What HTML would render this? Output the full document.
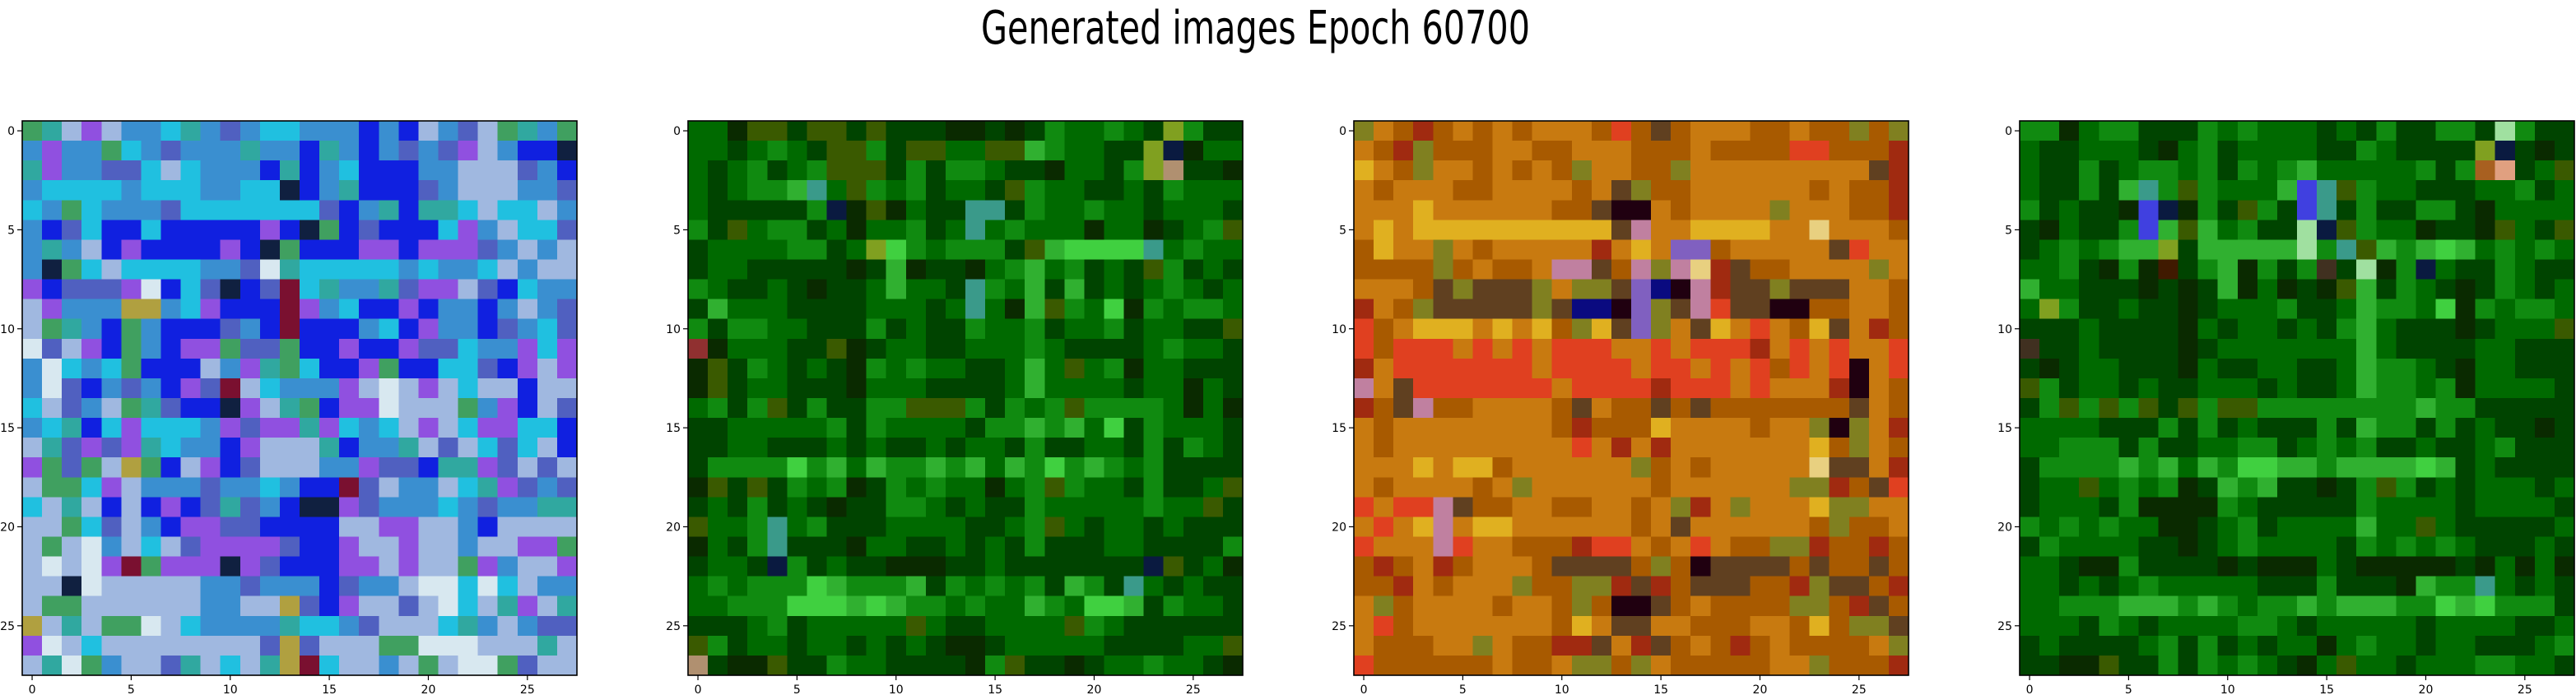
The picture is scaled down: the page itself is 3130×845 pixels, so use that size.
<!DOCTYPE html>
<html><head><meta charset="utf-8">
<style>html,body{margin:0;padding:0;background:#fff;}svg{display:block;}</style>
</head><body>
<svg id="fig" width="3130" height="845" viewBox="0 0 3130 845" xmlns="http://www.w3.org/2000/svg">
<text x="1192" y="53" textLength="667" lengthAdjust="spacingAndGlyphs" font-family="DejaVu Sans, Liberation Sans, sans-serif" font-size="56" fill="#000">Generated images Epoch 60700</text>
</svg>
<script>
const panelLefts = [27, 836, 1645, 2454];
const tickValues = [0, 5, 10, 15, 20, 25];
const tickLabels = ["0", "5", "10", "15", "20", "25"];
const palette1 = {g:"#40a060",t:"#30a8a0",l:"#a0b8e0",p:"#9050e0",a:"#3a8fd0",c:"#20c0e0",m:"#5060c0",b:"#1020e0",d:"#102040",w:"#d8e8f0",r:"#7a1030",y:"#b0a040"};
const paletteG = {G:"#006a00",D:"#004400",K:"#0a2a00",L:"#30b030",M:"#108a10",o:"#3a5a00",T:"#3a9a8a",N:"#0a1a40",B:"#b09070",R:"#903030",Y:"#80a020",P:"#40d040",I:"#4040e0",S:"#e0a080",Q:"#a0e0a0",A:"#a86020",k:"#403020",r:"#401a00"};
const palette3 = {O:"#c87a10",A:"#a85a00",Y:"#e0b020",R:"#e04020",r:"#a02a10",K:"#200010",P:"#8060c0",k:"#604020",g:"#808020",p:"#c080a0",B:"#0a0a80",W:"#e8d080"};
const image1 = [
"g t l p l a a c t a m a c c a a a b a b l a m l g t a g",
"a p a a g c a m a a a t a a b t a b a m a m p l a b b d",
"t p a a m m c l c a a a b t b a c b b b a a l l l m a b",
"a c c c c a c c c a a c c d b a t b b b m a l l l a a m",
"c a g c a a a m c c c c c c c m b a t b t t c l c c l a",
"a b m c b b c b b b b b p b d g b m b b b c p a l c c m",
"a t a l b p b b b b p b d g b b b p p b p p p m a l a l",
"a d g c l c c c c a a m w t c c c c c a c a a c l a l l",
"p b m m m p w b c m d b m r c t a a t m p p l m b c a a",
"l p a a a y y a c p b b b r p a c b b p b a a b a l a m",
"l g t a b g a b b b m a b r b b b a c b p a a b m a c m",
"w m l p b g a b p p g m m g b b p b b p m m c a a p c p",
"a w c a c g b b b l a p t g c b b p g b b c c m b p l p",
"a w m b a m a b p m r l c a a a p l w l p l c l l b l l",
"c l m a l g t m b b d p l t g b p p w l l l g a p b l m",
"a c t b c p c c c a p m p p t p c a c l p l c p p c c b",
"l t m p m p t c a a b p l l l t b a a t l m l c m c l b",
"p g m g l y g b l p b m l l l a a p m m b t t p m l m l",
"l g g c p l a a a m a a c a b b r m l a a l c t p m a m",
"c l t l b l b p b m t m a b d d p m a a a c a m a a t t",
"l l g c m l a b p p m m b b b b l l p p l l a b l l l l",
"l g l w a l c l m p p p p m b b p l l p l l a l l p p g",
"l w l w p r g p p p d p m b b b p p l p l l g p a l l p",
"l l d w l l l l l a a m a a a b m a a l w w c w c l a a",
"l g g l l l l l l a a l l y m b p l l m l w c l t p l t",
"y l t l g g w l c a a a a t c c a m l l l c t a l a m m",
"p w l c l l l l l l l l m y m l l l g g w w w l l l t l",
"l t w g a l l m t l c l t y r c l l a l g l w w g m l l"];
const image2 = [
"G G K o o D o o D o D D D K K D K D M G G M G D Y M D D",
"G G D G M G D o o M D o o G G o o L M G G D D Y N K G G",
"G D G M D G M o o o D M D M M G D D K G G D M Y B D D K",
"G D G M M L T G o M G M D G G D o M G G D D G D M G G G",
"G D D D D D M N K o K G D D T T D M G G M G G D G G G D",
"M D o G M M D G K G G M D G T G M G G G K G G K D G M o",
"D G G G G M M D G Y P M G M M M D o L P P P P T G M G G",
"D G G D D D D D K D L K D D K G M L G M D G D o M D G D",
"M G D D G D K D D G L G G D T M G L D L D G D G M G D G",
"D L G G G D D D D G G G D G T G K L o M G P K M G M M G",
"M D M M G G D D D M D G D D M G G M D G G M D G G D D o",
"R K G G G D D o K D G G D D G G G M G D D D D G M G G D",
"K o D M G D G D K M G M G G D D G L G o G M K G G D D D",
"K o D G G D D D K G G G D D D D G L G G G G D G G K G D",
"G M D M o D M D D M M o o o M D M G M o M M M M G K G K",
"D D G G G G G M D M G G G G D M M L M L G P D M G G G D",
"D D G G D D D G D G D D G D G G D M D D G G D M D M G D",
"D M M M M P M L G L M M L M L G L M P M L M G M D D D D",
"K o D o D M G M K D M G M G G K G M o M G G D M D D G o",
"D G D M D G D K D D M M G D G D D M G G G G G M G G o D",
"o G G M T G M D D D G G G G D D G M o G D G G D G D D D",
"K G D M T D D D K G G D D G D G D M D D D G G D D D D M",
"D G G D N M D G D D K K K D D G D D D D D D D N o D G K",
"G M G M M M P L M M M L D M G M G M D L M D T G D G D D",
"G G M M M P P P L P L M M G M G G L M G P P L D M G G D",
"D D D G M D G G G G G o G D D G G G G o M G D D D D D D",
"o M D G G D G G D G D G D K K D G G G G G D D D D G G o",
"B D K K o D D M G G D D D D K M o D D K D G G M G G D K"];
const image3 = [
"g O A r A O A O A O O O A R A k A O O O A A O A A g A g",
"O A r g A A A O O A A O O O A A A O A A A A R R A A A r",
"Y O A g O O A O A O A g O O A A g O O O O O O O O O k r",
"O A O O O A A O O O O A O k g A A O O O O O O A O A A r",
"O O O Y O O O O O O A A k K K O A O O O O g O O O A A r",
"O Y O Y Y Y Y Y Y Y Y Y Y k p O O Y Y Y Y O O W O O O A",
"A Y O O g O A O O O O O r O Y O P P A O O O O O k R O O",
"A A A A g A O A A O p p k A p g p W r k A A O O O O g O",
"O O O A k g k k k g O g g k P B K p r k k g k k k O O A",
"r O A g k k k k k g k B B K P g k p R k k K K A A O O A",
"R A O Y Y Y O Y O Y A g Y k P g O k Y O R O A Y k O r A",
"R A R R R O R O R O R R R O O R O R R R r O R O R O O R",
"r O R R R R R R R O R R R R O R R O R O R A R O R K O R",
"p O k R R R R R R R O R R R R r R R R O R O O O r K O A",
"r A k p A A O O O O A k O A A k A k A A A A A A A k O A",
"O A O O O O O O O O A r A A A Y O O O O A O O g K g O r",
"O A O O O O O O O O O R O r O r O O O O O O O Y A g O A",
"O O O Y O Y Y A O O O O O O g A O A O O O O O W k k O r",
"O A O O O O A O g O O O O O O A O O O O O O g g r A k R",
"R O R R p k A A O O A A O O A O g r O g O O O Y g g O O",
"O R O Y p O Y Y O O O O O O A O k O O O O O O A g A A O",
"R O O O p R O O A A A r R R O A O R O A A g g r A A r A",
"A r A O r A O O O A k k k k A g A K k k k k A k A A k A",
"A A r O A O O O g A A g g r k r A k k k A A r g k k A r",
"O g A O O O O A O O A g A K K k A O A A A A g g A r k A",
"O R A O O O O O O O A Y O k k O O A A A O O A Y A g g k",
"O A A A O O g O A A r r k O r k A O A r A O A A A A O g",
"R A A A A A A O A A O g g A g O A A A A A O O g A A A r"];
const image4 = [
"M M K G M M D D D M G M G G G D G D M D D M M D Q M D D",
"G D D G G G D K G M D G G G G D D M G D D D D Y N D K D",
"G D D M D G M M G M D M G M L G G G G G M D M A S D G o",
"G D D M D L T M o M G G G L I T o M G G D D D G G M D G",
"M D G D D K I N K M D o M D I T D M D D M M D K G G G G",
"D K G D D M I L o L G M D D Q N o M G G K D D K o G D o",
"D G M G M L L Y D L L L L L Q M T o L M L P L G M G M G",
"G G M D K M K r D M L K M D M k D Q K M N G D D M G D D",
"L G G D D D K D K D L K G K D K o L D M G D K D M G D G",
"G Y M D D G D D K D G G G M D D G L M M G P K M G M M G",
"D D D G D D D D K G D G G D G D M L G D D D K D G G G o",
"k D D G D D D D K D G G G G G G G L G D D D D G G D D D",
"D K D G G D D D K G D D G G D D G L M M G D K G G D D D",
"o M D G G D G D D G G G D G D D G L M M G M K G G G G D",
"D M o M o M o D o M o o M M M M M M M M L M M D D D D D",
"G G G G D D D M D M D G D D D M D L M M D M D G D D K D",
"G G M M M D M D D G G M M D G M G M D D G D D G M D D D",
"D M M M M L M L G L M P P L L M L L L L P L D G D D D D",
"D G G o G M G M K D L M L D D K D M o M D G D G G G D G",
"D G G G D M K K K K M G D D D D D M G G G G D G G G G D",
"M G M G M G G K K D G M D G G G G L G G o G D D D D D G",
"D M G G G G D D K D G M G G G G D M G M G M G D D D G D",
"G G D K K M D D D D K D K K K G D K K K K K D K G K G K",
"G G D G D G M G G G G G D D D M D D D K L M M T G D G D",
"G G M M M L L L M L M G M M L M L L L M M P L P M M M D",
"G G G D M G D G G G G M M G D G G G G G D G G G G D D G",
"D G D D D D G M D M D G D G G K G M G G D G G D D D G M",
"D D K K o D D M D M G M G D K G o G G D G G G M M G G D"];
const images = [image1, image2, image3, image4];
const palettes = [palette1, paletteG, palette3, paletteG];
const baseColors = ["#3a8fd0", "#006a00", "#c87a10", "#006a00"];

const NS = "http://www.w3.org/2000/svg";
const svg = document.getElementById("fig");
const TOP = 147, SIZE = 674, N = 28, CELL = SIZE / N;
function xScale(left, v) { return left + (v + 0.5) * CELL; }
function yScale(v) { return TOP + (v + 0.5) * CELL; }
function mk(tag, attrs) { const e = document.createElementNS(NS, tag); for (const k in attrs) e.setAttribute(k, attrs[k]); return e; }

images.forEach((img, pi) => {
  const left = panelLefts[pi];
  const g = mk("g", {});
  
  
  svg.appendChild(g);
  const cells = mk("g", {"shape-rendering": "crispEdges"});
  
  
  g.appendChild(cells);
  for (let r = 0; r < N; r++) {
    const row = (img[r] || "").trim().split(/\s+/);
    for (let c = 0; c < N; c++) {
      const col = palettes[pi][row[c]] || baseColors[pi];
      const x0 = xScale(left, c - 0.5), y0 = yScale(r - 0.5);
      const rect = mk("rect", {x: x0.toFixed(2), y: y0.toFixed(2), width: (CELL + 0.6).toFixed(2), height: (CELL + 0.6).toFixed(2), fill: col});
      
      
      cells.appendChild(rect);
    }
  }
  const frame = mk("rect", {x: left, y: TOP, width: SIZE, height: SIZE, fill: "none", stroke: "#000", "stroke-width": 1.6});
  
  
  g.appendChild(frame);
  tickValues.forEach((v, i) => {
    const tx = xScale(left, v);
    const xt = mk("line", {x1: tx, x2: tx, y1: TOP + SIZE, y2: TOP + SIZE + 6, stroke: "#000", "stroke-width": 1.2});
    
    
    g.appendChild(xt);
    const xl = mk("text", {x: tx, y: TOP + SIZE + 22, "text-anchor": "middle", "font-family": "DejaVu Sans, Liberation Sans, sans-serif", "font-size": 14, fill: "#000"});
    xl.textContent = tickLabels[i];
    
    
    g.appendChild(xl);
    const ty = yScale(v);
    const yt = mk("line", {x1: left - 6, x2: left, y1: ty, y2: ty, stroke: "#000", "stroke-width": 1.2});
    
    
    g.appendChild(yt);
    const yl = mk("text", {x: left - 9, y: ty + 5, "text-anchor": "end", "font-family": "DejaVu Sans, Liberation Sans, sans-serif", "font-size": 14, fill: "#000"});
    yl.textContent = tickLabels[i];
    
    
    g.appendChild(yl);
  });
});
</script>
</body></html>
